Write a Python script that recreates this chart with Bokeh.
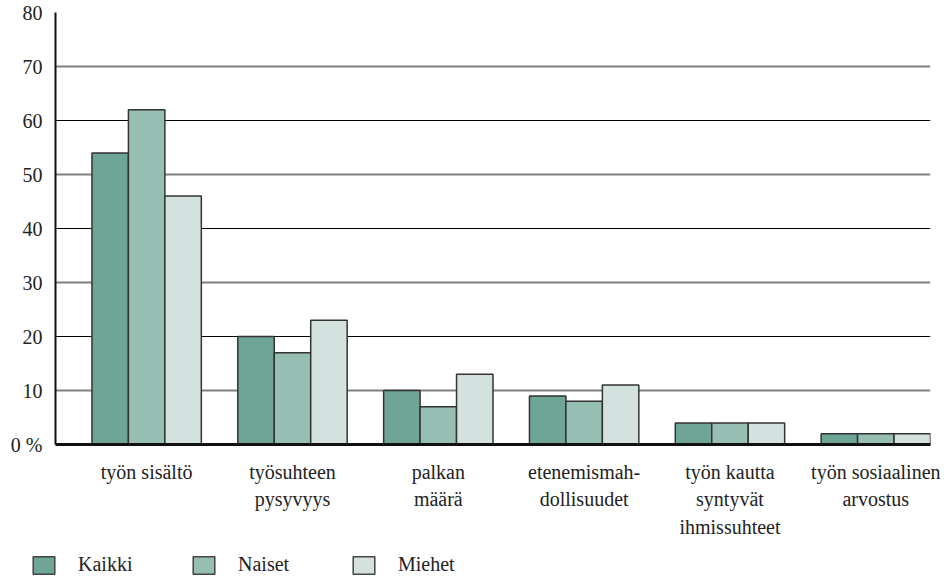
from bokeh.plotting import figure
from bokeh.models import FixedTicker, Grid, Legend, LegendItem, Range1d, ColumnDataSource
from bokeh.embed import file_html
from bokeh.resources import INLINE

categories = ["työn sisältö", "työsuhteen\npysyvyys", "palkan\nmäärä",
              "etenemismah-\ndollisuudet", "työn kautta\nsyntyvät\nihmissuhteet",
              "työn sosiaalinen\narvostus"]
series_names = ["Kaikki", "Naiset", "Miehet"]
kaikki = [54, 20, 10, 9, 4, 2]
naiset = [62, 17, 7, 8, 4, 2]
miehet = [46, 23, 13, 11, 4, 2]
y_ticks = [0, 10, 20, 30, 40, 50, 60, 70, 80]
y_tick_labels = ["0 %", "10", "20", "30", "40", "50", "60", "70", "80"]
colors = ["#6fa597", "#97beb2", "#d4e2df"]

FONT = "'Liberation Serif', 'DejaVu Serif', serif"
TXT = "#222222"
n = len(categories)
slots = 4  # one empty slot + three bars per category

p = figure(width=950, height=540, output_backend="svg", toolbar_location=None,
           x_range=Range1d(0, n * slots), y_range=Range1d(0, 80),
           min_border_left=55, min_border_right=20, min_border_top=12,
           min_border_bottom=95)
p.outline_line_color = None
p.background_fill_color = "white"
p.border_fill_color = "white"

for j, (vals, name, col) in enumerate(zip([kaikki, naiset, miehet], series_names, colors)):
    xs = [slots * i + 1.5 + j for i in range(n)]
    src = ColumnDataSource(dict(x=xs, top=vals))
    p.vbar(x="x", top="top", width=1.0, bottom=0, source=src,
           fill_color=col, line_color="#333333", line_width=1.5)

# axes
p.xaxis.ticker = FixedTicker(ticks=[slots * i + 2.5 for i in range(n)])
p.xaxis.major_label_overrides = {slots * i + 2.5: c for i, c in enumerate(categories)}
p.xaxis.major_tick_out = 0
p.xaxis.major_tick_in = 0
p.xaxis.minor_tick_line_color = None
p.xaxis.axis_line_width = 3
p.xaxis.axis_line_color = "#111111"
p.xaxis.major_label_text_font = FONT
p.xaxis.major_label_text_font_size = "20px"
p.xaxis.major_label_text_color = TXT
p.xaxis.major_label_text_line_height = 1.25
p.xaxis.major_label_standoff = 16

p.yaxis.ticker = FixedTicker(ticks=y_ticks)
p.yaxis.major_label_overrides = {t: l for t, l in zip(y_ticks, y_tick_labels)}
p.yaxis.major_tick_out = 0
p.yaxis.major_tick_in = 0
p.yaxis.minor_tick_line_color = None
p.yaxis.axis_line_width = 2
p.yaxis.axis_line_color = "#111111"
p.yaxis.major_label_text_font = FONT
p.yaxis.major_label_text_font_size = "20px"
p.yaxis.major_label_text_color = TXT
p.yaxis.major_label_standoff = 13

# grids: black at 20,40,60,80 and grey at 10,30,50,70
p.xgrid.visible = False
p.ygrid.ticker = FixedTicker(ticks=[20, 40, 60, 80])
p.ygrid.grid_line_color = "#000000"
p.ygrid.grid_line_width = 1
g2 = Grid(dimension=1, ticker=FixedTicker(ticks=[10, 30, 50, 70]),
          grid_line_color="#808080", grid_line_width=1.8)
p.add_layout(g2)

# legend strip below the chart (hidden swatch renderers only feed the legend)
lg = figure(width=950, height=36, output_backend="svg", toolbar_location=None,
            x_axis_type=None, y_axis_type=None, x_range=Range1d(0, 1), y_range=Range1d(0, 1),
            min_border_left=0, min_border_right=0, min_border_top=0, min_border_bottom=0)
lg.outline_line_color = None
lg.grid.visible = False
swatches = []
for name, col in zip(series_names, colors):
    r = lg.vbar(x=[0.5], top=[0.6], width=0.01, bottom=0.4,
                fill_color=col, line_color="#444444", line_width=1.5)
    r.visible = False
    swatches.append(r)
legend = Legend(items=[LegendItem(label=nm, renderers=[r]) for nm, r in zip(series_names, swatches)],
                orientation="horizontal", location=(30, 0),
                glyph_width=27, glyph_height=22, label_standoff=21, label_width=100,
                spacing=12, padding=2, margin=0, inactive_fill_alpha=0,
                label_text_font=FONT, label_text_font_size="20px", label_text_color=TXT,
                background_fill_alpha=0, border_line_color=None)
lg.add_layout(legend, "center")

open("out.html", "w").write(file_html([p, lg], INLINE))
